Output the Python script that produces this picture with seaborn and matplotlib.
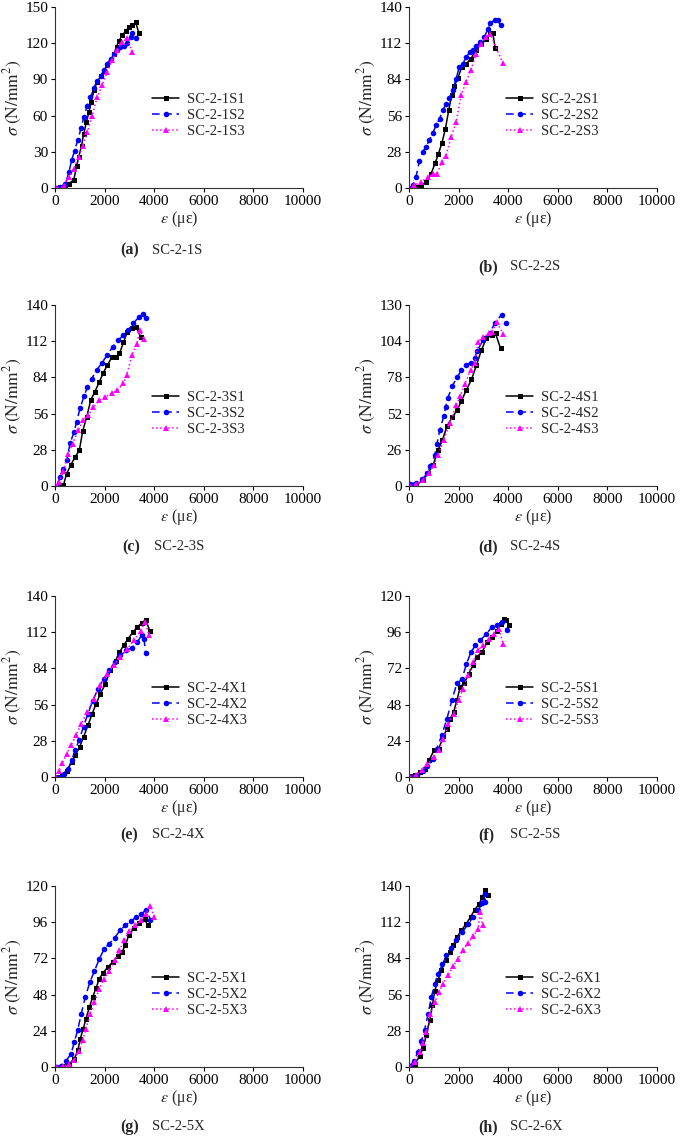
import numpy as np
import pandas as pd
import matplotlib
matplotlib.use('Agg')
import matplotlib.pyplot as plt
import seaborn as sns

# --- (a) SC-2-1S ---
a1_eps = [0, 220, 420, 560, 760, 870, 960, 1070, 1160, 1270, 1370, 1460, 1570, 1700, 1840, 1970, 2100, 2240, 2380, 2480, 2580, 2710, 2850, 2980, 3120, 3250, 3380]
a1_sig = [0, 0.5, 1.5, 3.6, 6.9, 18, 26, 35, 45, 55, 63, 71, 81, 88, 92.5, 97, 102, 106, 111, 117, 122, 126.5, 130, 133.4, 135, 137.3, 128.7]
a2_eps = [60, 220, 420, 560, 670, 790, 920, 1060, 1160, 1300, 1430, 1570, 1700, 1840, 1970, 2100, 2240, 2380, 2510, 2640, 2780, 2910, 3050, 3120, 3250]
a2_sig = [0, 1, 3.6, 13, 23, 31, 40, 50, 59, 68, 75, 83, 89, 93, 97.5, 103, 107, 111, 114.6, 117, 118, 120, 125, 128.7, 124]
a3_eps = [90, 360, 560, 760, 960, 1120, 1300, 1500, 1700, 1900, 2100, 2310, 2510, 2710, 2910, 3120]
a3_sig = [0, 1.4, 9, 16, 26, 35, 46, 60, 75, 85, 96, 106, 114, 121, 124, 112.7]

# --- (b) SC-2-2S ---
b1_eps = [80, 280, 480, 690, 890, 1050, 1180, 1330, 1470, 1600, 1720, 1830, 1970, 2130, 2300, 2500, 2700, 2910, 3110, 3280, 3380, 3470]
b1_sig = [0, 0.8, 2, 4.6, 11, 19, 26, 35, 46, 60, 72, 79, 85, 93.6, 96, 100, 107, 111.6, 115.5, 120, 120, 108.5]
b2_eps = [0, 150, 280, 420, 550, 690, 820, 960, 1090, 1230, 1360, 1490, 1630, 1760, 1900, 2030, 2170, 2300, 2440, 2570, 2710, 2880, 3040, 3180, 3280, 3450, 3580, 3690]
b2_sig = [0, 2, 8.5, 21, 28, 32, 37, 42.5, 48.5, 53.6, 60, 65, 70, 75.5, 84.5, 93.6, 96, 101, 105, 107, 109.5, 113, 116.8, 123, 128, 129.6, 130, 125.8]
b3_eps = [0, 200, 480, 750, 960, 1130, 1320, 1490, 1700, 1900, 2100, 2300, 2500, 2710, 2910, 3110, 3280, 3780]
b3_sig = [0, 2, 4.6, 8.5, 10.6, 11, 20, 25, 39.4, 51, 71.6, 82, 91.5, 104, 111.6, 116.8, 119.3, 96.6]

# --- (c) SC-2-3S ---
c1_eps = [130, 340, 470, 630, 810, 980, 1120, 1280, 1440, 1610, 1790, 1950, 2110, 2290, 2460, 2600, 2760, 2920, 3100, 3270, 3460]
c1_sig = [0, 0.5, 9.6, 16, 22.5, 27.6, 42.6, 53.5, 66.4, 73, 80.6, 87.6, 93.5, 99.5, 100, 102.6, 111, 119.4, 122, 123, 115]
c2_eps = [70, 200, 310, 470, 610, 770, 870, 1010, 1170, 1310, 1480, 1680, 1880, 2090, 2330, 2560, 2760, 2960, 3160, 3370, 3540, 3660]
c2_sig = [0, 7, 13, 20, 33, 42, 49.6, 60, 69.5, 76.7, 83, 89.7, 94.8, 101, 107.7, 113, 116.8, 120.7, 125.8, 130.5, 132.8, 129.7]
c3_eps = [70, 170, 340, 540, 710, 940, 1140, 1350, 1550, 1790, 2020, 2290, 2520, 2760, 2890, 3100, 3300, 3430, 3570]
c3_sig = [0, 3, 11.6, 25, 32.8, 43, 51, 54.8, 61, 66.4, 69, 71.6, 74, 79.3, 85.8, 101, 110, 120.7, 114]

# --- (d) SC-2-4S ---
d1_eps = [90, 300, 570, 770, 970, 1170, 1350, 1530, 1750, 1940, 2110, 2310, 2520, 2720, 2920, 3120, 3330, 3490, 3690]
d1_sig = [0, 1.2, 4, 9.4, 15, 25.7, 33, 43, 49.6, 54.4, 61, 68.8, 76.5, 86.8, 97.6, 106, 108.4, 109.6, 98.8]
d2_eps = [50, 300, 540, 730, 860, 1040, 1130, 1240, 1400, 1480, 1570, 1750, 1940, 2110, 2290, 2480, 2650, 2750, 2990, 3260, 3460, 3730, 3930]
d2_sig = [1.5, 2.5, 5, 9, 14.4, 22, 30.5, 40, 50, 57, 63.5, 72, 78, 83, 87, 88.5, 92, 97, 105, 110, 117, 123, 117]
d3_eps = [50, 270, 570, 810, 1000, 1170, 1400, 1640, 1910, 2070, 2250, 2480, 2650, 2790, 2990, 3220, 3360, 3530, 3800]
d3_sig = [0, 1.2, 4, 9.4, 15, 22, 33, 45, 58, 65, 73, 83, 88, 103.6, 107, 109.6, 110.3, 118, 109]

# --- (e) SC-2-4X ---
e1_eps = [70, 270, 470, 680, 810, 990, 1150, 1330, 1490, 1660, 1830, 2030, 2230, 2440, 2600, 2770, 2950, 3140, 3320, 3490, 3650, 3830]
e1_sig = [0, 1.3, 5, 11.6, 16.8, 23, 31, 40, 48.5, 56.7, 64.4, 72, 82.5, 90, 96.6, 101.8, 107, 112, 116, 119, 121.6, 112.9]
e2_eps = [200, 380, 540, 680, 810, 970, 1150, 1330, 1520, 1730, 1960, 2190, 2410, 2640, 2870, 3110, 3320, 3490, 3590, 3650]
e2_sig = [0, 2.6, 6.4, 13.4, 20.6, 28.4, 39, 49, 59, 68, 76, 82.5, 89, 94, 98, 100, 104.4, 109.5, 107, 96]
e3_eps = [30, 160, 300, 470, 650, 840, 1060, 1290, 1560, 1830, 2100, 2370, 2640, 2910, 3180, 3450, 3630, 3790]
e3_sig = [0, 4.6, 10.8, 18, 24.5, 32.2, 41, 50, 60.6, 71, 80, 86.3, 92.8, 99, 105.6, 113, 120, 109.5]

# --- (f) SC-2-5S ---
f1_eps = [40, 240, 450, 650, 820, 1010, 1200, 1390, 1530, 1660, 1800, 1930, 2070, 2230, 2410, 2580, 2740, 2950, 3150, 3350, 3530, 3690, 3820, 3930, 4030]
f1_sig = [0.4, 1.1, 3.3, 5.5, 11.5, 17.7, 18.8, 27, 32, 38.7, 43, 50.8, 60, 62, 68.5, 74, 79.6, 83, 89.5, 92.8, 97, 101.7, 105, 104.3, 100.5]
f2_eps = [40, 310, 550, 740, 960, 1120, 1320, 1530, 1730, 1930, 2140, 2310, 2500, 2680, 2880, 3120, 3350, 3550, 3760, 3960]
f2_sig = [0, 1.5, 3.8, 7, 12, 18.8, 27.6, 38.7, 51, 62, 65, 74.7, 82.9, 87.3, 90.6, 95, 99.4, 100.5, 102.8, 97.2]
f3_eps = [40, 280, 510, 740, 990, 1200, 1390, 1590, 1800, 2000, 2180, 2360, 2580, 2770, 2990, 3220, 3420, 3620, 3800]
f3_sig = [0, 1.1, 4.4, 8.4, 13.3, 17.7, 25.4, 35.4, 42, 50.8, 58.6, 67.4, 76.2, 84, 87.3, 91.7, 95, 98.3, 88.4]

# --- (g) SC-2-5X ---
g1_eps = [40, 310, 580, 780, 920, 1020, 1140, 1250, 1390, 1520, 1660, 1790, 1920, 2130, 2330, 2530, 2700, 2840, 2970, 3200, 3400, 3610, 3740]
g1_sig = [0, 0.4, 2.2, 5.5, 11, 18.8, 25.4, 32, 39.8, 46.4, 52.6, 58.6, 62, 66.3, 69.6, 73.4, 76.2, 80.7, 87.3, 92.4, 95.5, 98.3, 93.9]
g2_eps = [40, 240, 440, 650, 780, 920, 1060, 1220, 1410, 1590, 1790, 1990, 2190, 2400, 2620, 2840, 3070, 3270, 3470, 3670, 3850]
g2_sig = [0, 0.9, 4, 8.8, 16.6, 24.8, 35.4, 46.4, 56.4, 63.6, 71.8, 78.5, 81.8, 85.5, 90.6, 94, 96.8, 99.4, 101.2, 104.3, 97.7]
g3_eps = [70, 310, 550, 780, 960, 1120, 1250, 1410, 1590, 1790, 1990, 2190, 2400, 2600, 2800, 3000, 3240, 3470, 3670, 3840, 4010]
g3_sig = [0, 0.4, 2.2, 4.9, 10.6, 18, 25.4, 35, 43, 52, 58.6, 63.6, 70.7, 77.3, 84.4, 90.2, 94, 97.2, 101.7, 106.5, 99.4]

# --- (h) SC-2-6X ---
h1_eps = [30, 230, 430, 570, 700, 830, 940, 1040, 1170, 1310, 1480, 1640, 1780, 1940, 2110, 2290, 2480, 2650, 2830, 2960, 3080, 3190]
h1_sig = [0.5, 2.6, 8.2, 15, 24.5, 36, 47.7, 59, 67, 75, 82.5, 89, 94, 100.5, 105.7, 110.3, 116, 121.6, 126.3, 131.4, 137, 132.7]
h2_eps = [30, 190, 360, 500, 630, 770, 900, 1040, 1170, 1350, 1510, 1710, 1910, 2150, 2380, 2580, 2790, 2960, 3060, 3080]
h2_sig = [0.5, 4.6, 11.6, 20, 28.9, 41, 54, 64.4, 72, 79.4, 86.3, 92.3, 98, 104.4, 110.3, 116, 121.6, 126.8, 134, 127.6]
h3_eps = [30, 230, 430, 570, 700, 860, 1040, 1210, 1370, 1570, 1780, 1980, 2180, 2380, 2580, 2790, 2880, 2970]
h3_sig = [0, 3.9, 11.6, 18.6, 27, 40.7, 50.3, 58, 64.4, 71, 77.8, 83.8, 90.2, 96, 101, 107, 119.8, 109.5]

specimens = ['SC-2-1S', 'SC-2-2S', 'SC-2-3S', 'SC-2-4S', 'SC-2-4X', 'SC-2-5S', 'SC-2-5X', 'SC-2-6X']
panel_tags = ['(a)', '(b)', '(c)', '(d)', '(e)', '(f)', '(g)', '(h)']
y_max = [150, 140, 140, 130, 140, 120, 120, 140]
y_step = [30, 28, 28, 26, 28, 24, 24, 28]

curves = [
    [(a1_eps, a1_sig), (a2_eps, a2_sig), (a3_eps, a3_sig)],
    [(b1_eps, b1_sig), (b2_eps, b2_sig), (b3_eps, b3_sig)],
    [(c1_eps, c1_sig), (c2_eps, c2_sig), (c3_eps, c3_sig)],
    [(d1_eps, d1_sig), (d2_eps, d2_sig), (d3_eps, d3_sig)],
    [(e1_eps, e1_sig), (e2_eps, e2_sig), (e3_eps, e3_sig)],
    [(f1_eps, f1_sig), (f2_eps, f2_sig), (f3_eps, f3_sig)],
    [(g1_eps, g1_sig), (g2_eps, g2_sig), (g3_eps, g3_sig)],
    [(h1_eps, h1_sig), (h2_eps, h2_sig), (h3_eps, h3_sig)],
]

sns.set_theme(style='ticks')
plt.rcParams['font.family'] = ['Liberation Serif', 'DejaVu Serif']
plt.rcParams['mathtext.fontset'] = 'stix'

W, H = 685, 1137
fig = plt.figure(figsize=(W / 100, H / 100), dpi=100)

# axes boxes in pixels: left, top
col_left = [55, 409]
row_top = [7, 305, 596, 886]
ax_w, ax_h = 248, 181
caption_y = [250, 267, 547, 547, 835, 835, 1127, 1127]
caption_x = [120, 478, 122, 478, 120, 478, 120, 478]

series_style = [
    dict(color='black', marker='s', linestyle='-', markersize=3.6),
    dict(color='blue', marker='o', linestyle=(0, (5, 3)), markersize=4.0),
    dict(color='magenta', marker='^', linestyle=':', markersize=4.4),
]

for i, name in enumerate(specimens):
    r, c = divmod(i, 2)
    left = col_left[c]
    top = row_top[r]
    ax = fig.add_axes([left / W, 1 - (top + ax_h) / H, ax_w / W, ax_h / H])

    for k, (xs, ys) in enumerate(curves[i]):
        df = pd.DataFrame({'eps': xs, 'sig': ys})
        st = series_style[k]
        sns.lineplot(data=df, x='eps', y='sig', ax=ax, sort=False, estimator=None,
                     color=st['color'], marker=st['marker'], linestyle=st['linestyle'],
                     markersize=st['markersize'], markeredgewidth=0, linewidth=1.1,
                     label=f'{name}{k + 1}')

    ax.set_xlim(0, 10000)
    ax.set_ylim(0, y_max[i])
    ax.set_xticks(np.arange(0, 10001, 2000))
    ax.set_yticks(np.arange(0, y_max[i] + 1, y_step[i]))
    ax.tick_params(direction='out', length=3, width=0.8, labelsize=11, pad=2, colors='black')
    for s in ['top', 'right']:
        ax.spines[s].set_visible(False)
    for s in ['left', 'bottom']:
        ax.spines[s].set_color('#333333')
        ax.spines[s].set_linewidth(0.8)

    ax.set_xlabel(r'$\varepsilon$ (με)', fontsize=11.5, labelpad=1)
    ax.set_ylabel(r'$\sigma\;(\mathrm{N/mm}^2)$', fontsize=12.5, labelpad=1)

    ax.legend(loc='center left', bbox_to_anchor=(0.39, 0.40), frameon=False,
              fontsize=10.5, borderpad=0, borderaxespad=0, labelspacing=0.2,
              handlelength=1.9, handletextpad=0.5)

    fig.text(caption_x[i] / W, 1 - caption_y[i] / H, panel_tags[i],
             fontsize=11.5, fontweight='bold', ha='left', va='center')
    fig.text((caption_x[i] + 32) / W, 1 - caption_y[i] / H, name,
             fontsize=10.5, ha='left', va='center')

fig.savefig('out.png', dpi=100)
